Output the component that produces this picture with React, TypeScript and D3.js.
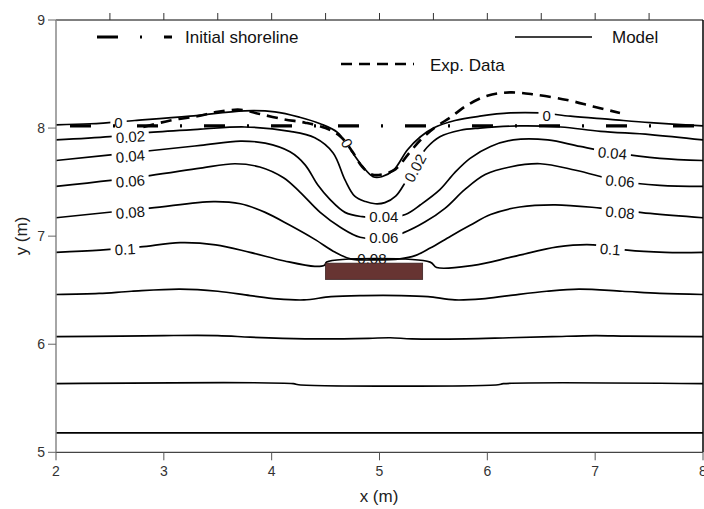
import React from "react";
import * as d3 from "d3";

type P = [number, number];

// axis ticks
const xTicks = [2, 3, 4, 5, 6, 7, 8];
const xTopTicks = [2.5, 3, 3.5, 4, 4.5, 5, 5.5, 6, 6.5, 7, 7.5];
const yTicks = [5, 6, 7, 8, 9];

// model contours (labelled levels)
const contourLevels = ["0", "0.02", "0.04", "0.06", "0.08", "0.1"];

const c000: P[] = [
  [2.0, 8.03], [2.32, 8.04], [2.73, 8.07], [3.24, 8.11], [3.75, 8.16], [4.03, 8.15],
  [4.26, 8.1], [4.45, 8.04], [4.61, 7.96], [4.73, 7.8], [4.84, 7.65], [4.94, 7.55],
  [5.02, 7.55], [5.13, 7.61], [5.26, 7.8], [5.38, 7.92], [5.5, 8.0], [5.7, 8.07],
  [5.93, 8.11], [6.21, 8.14], [6.49, 8.14], [6.77, 8.11], [7.14, 8.08], [7.51, 8.05], [8.0, 8.02],
];
const c002: P[] = [
  [2.0, 7.89], [2.5, 7.92], [2.87, 7.96], [3.34, 7.99], [3.75, 8.01], [4.17, 7.97],
  [4.4, 7.91], [4.57, 7.77], [4.68, 7.52], [4.77, 7.37], [4.87, 7.32], [4.96, 7.3],
  [5.05, 7.31], [5.15, 7.37], [5.24, 7.5], [5.33, 7.66], [5.44, 7.82], [5.56, 7.92],
  [5.75, 7.98], [5.93, 8.0], [6.3, 8.02], [6.68, 8.01], [7.05, 7.97], [7.51, 7.94], [8.0, 7.89],
];
const c004: P[] = [
  [2.0, 7.7], [2.87, 7.79], [3.34, 7.84], [3.71, 7.88], [3.94, 7.86], [4.17, 7.78],
  [4.31, 7.66], [4.43, 7.47], [4.54, 7.34], [4.68, 7.22], [4.84, 7.18], [5.05, 7.17],
  [5.24, 7.2], [5.38, 7.29], [5.56, 7.43], [5.7, 7.59], [5.84, 7.72], [6.03, 7.83],
  [6.24, 7.89], [6.56, 7.89], [6.86, 7.83], [7.19, 7.77], [7.6, 7.72], [8.0, 7.7],
];
const c006: P[] = [
  [2.0, 7.46], [2.87, 7.56], [3.34, 7.63], [3.66, 7.67], [3.89, 7.64], [4.11, 7.54],
  [4.26, 7.41], [4.45, 7.22], [4.64, 7.08], [4.82, 6.99], [5.05, 6.98], [5.22, 7.03],
  [5.42, 7.13], [5.61, 7.26], [5.79, 7.43], [5.98, 7.57], [6.21, 7.64], [6.49, 7.67],
  [6.82, 7.61], [7.23, 7.51], [7.6, 7.47], [8.0, 7.46],
];
const c008: P[] = [
  [2.0, 7.17], [2.87, 7.26], [3.46, 7.32], [3.71, 7.3], [3.94, 7.22], [4.17, 7.1],
  [4.4, 6.97], [4.59, 6.85], [4.73, 6.79], [4.96, 6.78], [5.19, 6.79], [5.33, 6.82],
  [5.47, 6.89], [5.66, 7.0], [5.84, 7.1], [6.03, 7.2], [6.3, 7.27], [6.63, 7.29],
  [7.05, 7.26], [7.51, 7.21], [8.0, 7.17],
];
const c010: P[] = [
  [2.0, 6.85], [2.41, 6.87], [2.78, 6.9], [3.15, 6.94], [3.48, 6.92], [3.8, 6.85],
  [4.12, 6.77], [4.4, 6.72], [4.49, 6.73], [4.51, 6.76], [5.47, 6.76], [5.53, 6.71],
  [5.87, 6.73], [6.24, 6.81], [6.65, 6.9], [6.98, 6.92], [7.3, 6.87], [7.65, 6.85], [8.0, 6.85],
];

// deeper unlabelled contours
const cDeep1: P[] = [
  [2.0, 6.46], [2.4, 6.47], [2.7, 6.49], [3.15, 6.51], [3.5, 6.49], [3.8, 6.45],
  [4.05, 6.42], [4.3, 6.41], [4.55, 6.44], [4.85, 6.45], [5.2, 6.45], [5.45, 6.44],
  [5.7, 6.41], [5.95, 6.42], [6.2, 6.45], [6.55, 6.49], [6.85, 6.51], [7.25, 6.49],
  [7.6, 6.47], [8.0, 6.46],
];
const cDeep2: P[] = [
  [2.0, 6.07], [2.6, 6.075], [3.0, 6.08], [3.5, 6.08], [3.8, 6.065], [4.1, 6.055],
  [4.5, 6.05], [4.9, 6.055], [5.1, 6.06], [5.3, 6.05], [5.8, 6.05], [6.2, 6.06],
  [6.6, 6.07], [7.0, 6.08], [7.3, 6.075], [8.0, 6.07],
];
const cDeep3: P[] = [[2.0, 5.635], [4.2, 5.635], [4.25, 5.625], [6.1, 5.625], [6.15, 5.635], [8.0, 5.635]];
const cDeep4: P[] = [[2.0, 5.18], [8.0, 5.18]];

const modelContours = [c000, c002, c004, c006, c008, c010, cDeep1, cDeep2, cDeep3, cDeep4];

const initialShoreline: P[] = [[2.0, 8.02], [8.0, 8.02]];

const expData: P[] = [
  [2.81, 8.01], [3.06, 8.07], [3.31, 8.11], [3.5, 8.15], [3.71, 8.17], [3.89, 8.13],
  [4.12, 8.08], [4.31, 8.05], [4.5, 8.0], [4.64, 7.92], [4.75, 7.78], [4.84, 7.64],
  [4.93, 7.57], [5.02, 7.57], [5.15, 7.62], [5.26, 7.75], [5.38, 7.89], [5.52, 8.01],
  [5.66, 8.1], [5.81, 8.21], [6.0, 8.3], [6.21, 8.33], [6.44, 8.31], [6.74, 8.26],
  [6.98, 8.2], [7.23, 8.14],
];

// breakwater
const breakwaterX = [4.5, 5.4];
const breakwaterY = [6.6, 6.75];

// contour label placements: level index, x, y, rotation
const labelPlacements: { level: number; x: number; y: number; rot: number; gap: boolean }[] = [
  { level: 0, x: 2.58, y: 8.05, rot: 0, gap: true },
  { level: 1, x: 2.69, y: 7.92, rot: -4, gap: true },
  { level: 2, x: 2.69, y: 7.74, rot: -5, gap: true },
  { level: 3, x: 2.69, y: 7.51, rot: -5, gap: true },
  { level: 4, x: 2.69, y: 7.22, rot: -5, gap: true },
  { level: 5, x: 2.64, y: 6.88, rot: -3, gap: true },
  { level: 0, x: 6.55, y: 8.12, rot: 0, gap: true },
  { level: 2, x: 7.16, y: 7.77, rot: 5, gap: true },
  { level: 3, x: 7.23, y: 7.51, rot: 5, gap: true },
  { level: 4, x: 7.23, y: 7.22, rot: 5, gap: true },
  { level: 5, x: 7.14, y: 6.88, rot: 5, gap: true },
  { level: 0, x: 4.7, y: 7.86, rot: 60, gap: true },
  { level: 1, x: 5.33, y: 7.63, rot: -62, gap: true },
  { level: 2, x: 5.04, y: 7.18, rot: 0, gap: true },
  { level: 3, x: 5.04, y: 6.99, rot: 0, gap: true },
  { level: 4, x: 4.93, y: 6.79, rot: 0, gap: false },
];

const W = 704;
const H = 509;
const FONT = "'Liberation Sans', Arial, sans-serif";

const textWidth = (s: string, fs: number) =>
  s.split("").reduce((a, ch) => a + (ch === "." ? 0.278 : 0.556), 0) * fs;

export default function App() {
  const x = d3.scaleLinear().domain([2, 8]).range([56, 703]);
  const y = d3.scaleLinear().domain([5, 9]).range([452.3, 20]);

  const line = d3
    .line<P>()
    .x((d) => x(d[0]))
    .y((d) => y(d[1]))
    .curve(d3.curveCatmullRom.alpha(0.5));

  const straight = d3
    .line<P>()
    .x((d) => x(d[0]))
    .y((d) => y(d[1]));

  const left = x(2);
  const right = x(8);
  const top = y(9);
  const bottom = y(5);
  const lblFs = 15;

  return (
    <svg
      width={W}
      height={H}
      style={{ position: "absolute", left: 0, top: 0, background: "#fff" }}
      fontFamily={FONT}
    >
      <rect x={0} y={0} width={W} height={H} fill="#fff" />

      {/* model contours */}
      {modelContours.map((c, i) => (
        <path key={`c-${i}`} d={line(c) || ""} fill="none" stroke="#000" strokeWidth={1.7} />
      ))}

      {/* contour labels */}
      {labelPlacements.map((l, i) => {
        const txt = contourLevels[l.level];
        const tw = textWidth(txt, lblFs);
        return (
          <g key={`lbl-${i}`} transform={`translate(${x(l.x)},${y(l.y)}) rotate(${l.rot})`}>
            {l.gap && <rect x={-tw / 2 - 4} y={-6} width={tw + 8} height={12} fill="#fff" />}
            <text
              x={0}
              y={0}
              fontSize={lblFs}
              textAnchor="middle"
              dominantBaseline="central"
              fill="#111"
            >
              {txt}
            </text>
          </g>
        );
      })}

      {/* breakwater */}
      <rect
        x={x(breakwaterX[0])}
        y={y(breakwaterY[1])}
        width={x(breakwaterX[1]) - x(breakwaterX[0])}
        height={y(breakwaterY[0]) - y(breakwaterY[1])}
        fill="#673432"
        stroke="#3a2020"
        strokeWidth={0.8}
      />

      {/* initial shoreline */}
      <path
        d={straight(initialShoreline) || ""}
        fill="none"
        stroke="#000"
        strokeWidth={3.2}
        strokeDasharray="21,22,2,22"
        strokeDashoffset={53}
      />

      {/* experimental data */}
      <path
        d={line(expData) || ""}
        fill="none"
        stroke="#000"
        strokeWidth={2.6}
        strokeDasharray="11,7"
      />

      {/* frame */}
      <line x1={left} y1={top} x2={right} y2={top} stroke="#000" strokeWidth={1} />
      <line x1={right} y1={top} x2={right} y2={bottom} stroke="#000" strokeWidth={1.5} />
      <line x1={left} y1={bottom} x2={right} y2={bottom} stroke="#444" strokeWidth={1.2} />
      <line x1={left} y1={top} x2={left} y2={bottom} stroke="#888" strokeWidth={1.5} />

      {/* top ticks */}
      {xTopTicks.map((t) => (
        <line key={`tt-${t}`} x1={x(t)} x2={x(t)} y1={top - 7} y2={top} stroke="#333" strokeWidth={1} />
      ))}

      {/* bottom ticks + labels */}
      {xTicks.map((t) => (
        <g key={`xt-${t}`}>
          <line x1={x(t)} x2={x(t)} y1={bottom} y2={bottom + 8} stroke="#555" strokeWidth={1} />
          <text x={x(t)} y={bottom + 24} fontSize={14} textAnchor="middle" fill="#333">
            {t}
          </text>
        </g>
      ))}

      {/* left ticks + labels */}
      {yTicks.map((t) => (
        <g key={`yt-${t}`}>
          <line x1={left - 8} x2={left} y1={y(t)} y2={y(t)} stroke="#666" strokeWidth={1} />
          <text x={left - 11} y={y(t) + 5} fontSize={14} textAnchor="end" fill="#333">
            {t}
          </text>
        </g>
      ))}

      {/* axis titles */}
      <text x={379} y={502} fontSize={17} textAnchor="middle" fill="#222">
        x (m)
      </text>
      <text
        transform={`translate(27,236) rotate(-90)`}
        fontSize={17}
        textAnchor="middle"
        fill="#222"
      >
        y (m)
      </text>

      {/* legend */}
      <line x1={97} x2={172} y1={37} y2={37} stroke="#000" strokeWidth={3.2} strokeDasharray="21,22,2,22" />
      <text x={185} y={43} fontSize={17} fill="#111">
        Initial shoreline
      </text>
      <line x1={515} x2={592} y1={37} y2={37} stroke="#000" strokeWidth={1.7} />
      <text x={612} y={43} fontSize={17} fill="#111">
        Model
      </text>
      <line x1={341} x2={414} y1={64} y2={64} stroke="#000" strokeWidth={2.6} strokeDasharray="11,7" />
      <text x={430} y={71} fontSize={17} fill="#111">
        Exp. Data
      </text>
    </svg>
  );
}
